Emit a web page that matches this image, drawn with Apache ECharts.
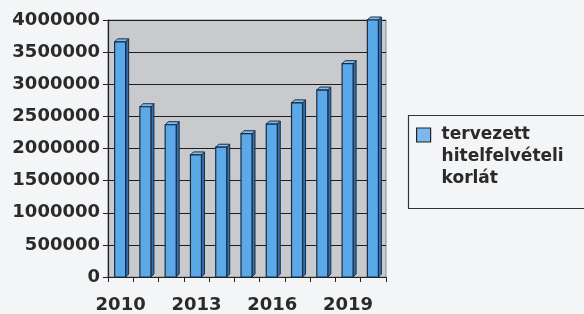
<!DOCTYPE html>
<html>
<head>
<meta charset="utf-8">
<script src="https://cdn.jsdelivr.net/npm/echarts@6/dist/echarts.min.js"></script>
<style>
  html, body { margin: 0; padding: 0; background: #f3f5f7; }
  #chart { width: 584px; height: 314px; }
</style>
</head>
<body>
<div id="chart"></div>
<script>
const years = ['2010', '2011', '2012', '2013', '2014', '2015', '2016', '2017', '2018', '2019', '2020'];
const hitelKorlat = [3660000, 2650000, 2370000, 1900000, 2020000, 2230000, 2380000, 2710000, 2910000, 3320000, 4000000];
const seriesName = 'tervezett\nhitelfelvételi\nkorlát';

const font = 'DejaVu Sans';
const myChart = echarts.init(document.getElementById('chart'), null, { renderer: 'canvas' });

// 3D-ish column: front face + right side + top
function renderBar(params, api) {
  const idx = api.value(0);
  const top = api.coord([idx, api.value(1)]);
  const base = api.coord([idx, 0]);
  const bw = 11;
  const d = 3;
  const x = top[0] - bw / 2 - 0.5;
  const h = base[1] - top[1];
  const line = '#1c2b3e';
  return {
    type: 'group',
    children: [
      {
        type: 'polygon',
        shape: { points: [[x + bw, top[1]], [x + bw + d, top[1] - d], [x + bw + d, base[1] - d], [x + bw, base[1]]] },
        style: { fill: '#2f72b4', stroke: line, lineWidth: 1 }
      },
      {
        type: 'polygon',
        shape: { points: [[x, top[1]], [x + d, top[1] - d], [x + bw + d, top[1] - d], [x + bw, top[1]]] },
        style: { fill: '#7cc0f4', stroke: line, lineWidth: 1 }
      },
      {
        type: 'rect',
        shape: { x: x, y: top[1], width: bw, height: h },
        style: { fill: '#5ca9ea', stroke: line, lineWidth: 1.2 }
      }
    ]
  };
}

const option = {
  backgroundColor: '#f3f5f7',
  animation: false,
  grid: {
    left: 108,
    right: 198,
    top: 20,
    bottom: 37,
    show: true,
    backgroundColor: '#c8cacd',
    borderColor: '#8a8c90',
    borderWidth: 1
  },
  legend: {
    show: true,
    data: [seriesName],
    orient: 'vertical',
    left: 416,
    top: 80,
    padding: 0,
    icon: 'rect',
    itemWidth: 14,
    itemHeight: 14,
    itemStyle: { color: '#7ab9ee', borderColor: '#222', borderWidth: 1.2 },
    // two blank lines on top so the first line sits level with the icon
    formatter: function (name) {
      return '\n\n' + name;
    },
    textStyle: {
      fontFamily: font,
      fontWeight: 'bold',
      fontSize: 17,
      lineHeight: 22,
      color: '#2a2a2a',
      padding: [0, 0, 0, 6]
    }
  },
  graphic: [{
    type: 'rect',
    shape: { x: 408.5, y: 115.5, width: 190, height: 93 },
    style: { fill: 'none', stroke: '#333', lineWidth: 1.2 },
    z: -1
  }],
  xAxis: {
    type: 'category',
    data: years,
    boundaryGap: true,
    axisLine: { lineStyle: { color: '#222', width: 1.2 } },
    axisTick: { show: true, interval: 0, length: 5, lineStyle: { color: '#222' } },
    axisLabel: {
      interval: 2,
      margin: 19,
      fontFamily: font,
      fontWeight: 'bold',
      fontSize: 18,
      color: '#2a2a2a'
    },
    splitLine: { show: false }
  },
  yAxis: {
    type: 'value',
    min: 0,
    max: 4000000,
    interval: 500000,
    axisLine: { show: true, lineStyle: { color: '#222', width: 1.2 } },
    axisTick: { show: true, length: 5, lineStyle: { color: '#222' } },
    axisLabel: {
      margin: 8,
      fontFamily: font,
      fontWeight: 'bold',
      fontSize: 18,
      color: '#2a2a2a',
      formatter: function (v) { return String(v); }
    },
    splitLine: { show: true, lineStyle: { color: '#1e1e1e', width: 1.2 } }
  },
  series: [{
    name: seriesName,
    type: 'custom',
    renderItem: renderBar,
    encode: { x: 0, y: 1 },
    data: hitelKorlat.map((v, i) => [i, v]),
    itemStyle: { color: '#5ca9ea' }
  }]
};

myChart.setOption(option);
</script>
</body>
</html>
